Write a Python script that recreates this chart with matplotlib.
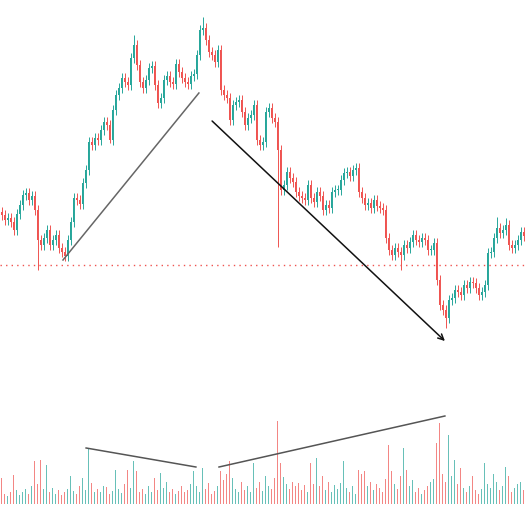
import matplotlib
matplotlib.use("Agg")
import matplotlib.pyplot as plt
import numpy as np

# Close prices (one candle per step)
close = [
    105.0, 104.5, 104.7, 104.3, 103.5, 105.1, 106.0, 107.0, 107.2, 106.5,
    106.9, 105.5, 102.5, 102.0, 102.7, 103.5, 102.0, 102.5, 103.0, 101.7,
    101.3, 100.9, 102.5, 104.3, 106.7, 106.5, 106.1, 108.2, 109.5, 112.3,
    112.0, 112.7, 112.5, 113.5, 114.3, 114.0, 112.5, 115.5, 117.0, 117.7,
    118.7, 118.3, 118.0, 120.7, 122.0, 120.0, 118.3, 117.7, 118.5, 119.7,
    119.9, 118.0, 116.2, 116.7, 118.5, 118.9, 118.3, 118.1, 120.1, 119.3,
    118.7, 118.3, 118.1, 118.9, 119.1, 121.0, 123.5, 123.7, 122.5, 121.3,
    121.0, 120.3, 121.5, 117.5, 117.0, 116.7, 114.5, 116.0, 116.3, 116.5,
    115.3, 114.0, 114.7, 115.0, 116.0, 112.5, 112.0, 112.3, 115.3, 115.7,
    114.7, 114.3, 111.5, 107.5, 108.0, 109.3, 108.7, 108.3, 107.3, 106.9,
    106.7, 106.5, 108.0, 106.7, 106.3, 107.3, 106.9, 105.5, 106.0, 105.7,
    107.3, 107.5, 107.5, 108.5, 109.2, 109.3, 108.9, 109.5, 109.7, 107.3,
    106.7, 106.0, 106.2, 105.7, 106.5, 105.9, 105.7, 105.5, 102.7, 101.5,
    101.0, 101.7, 101.3, 101.0, 102.0, 101.7, 102.3, 103.0, 102.5, 102.3,
    102.7, 102.5, 101.5, 101.5, 102.2, 98.5, 96.0, 95.5, 94.7, 96.5,
    96.7, 97.5, 97.3, 97.0, 98.0, 97.7, 98.3, 98.2, 97.7, 97.0,
    97.3, 98.0, 101.2, 101.3, 102.7, 103.7, 103.2, 103.5, 104.0, 102.0,
    101.7, 102.0, 102.5, 103.3, 102.9,
]

# Volume per candle
volume = [
    26, 10, 8, 12, 29, 14, 9, 12, 15, 10, 18, 43, 20, 44, 15, 39, 12, 16, 10, 14,
    9, 12, 15, 28, 13, 10, 18, 26, 14, 56, 21, 12, 15, 12, 18, 17, 10, 13, 34, 15,
    11, 20, 34, 16, 43, 33, 12, 15, 10, 18, 12, 26, 14, 31, 16, 22, 12, 15, 10, 13,
    18, 12, 14, 20, 33, 18, 12, 36, 15, 21, 10, 13, 18, 33, 24, 30, 43, 26, 15, 12,
    22, 14, 18, 12, 41, 16, 22, 13, 28, 18, 15, 26, 83, 41, 27, 20, 15, 22, 18, 21,
    14, 19, 12, 41, 20, 46, 18, 28, 14, 22, 12, 19, 15, 21, 43, 16, 12, 18, 10, 34,
    30, 33, 18, 22, 14, 20, 16, 12, 25, 59, 33, 20, 15, 28, 56, 34, 18, 24, 12, 16,
    10, 14, 18, 22, 25, 61, 81, 30, 22, 69, 28, 44, 20, 36, 16, 12, 18, 28, 14, 10,
    15, 41, 20, 16, 30, 22, 14, 18, 37, 28, 12, 16, 20, 22, 14,
]

# Notable wick extremes: candle index -> price
spike_highs = {44: 123.0, 67: 124.8, 72: 122.0, 165: 104.8, 168: 104.7}
spike_lows = {12: 99.5, 92: 101.8, 133: 99.5, 148: 93.7, 36: 112.2}
wick_len = 0.5

support_level = 100.0
trend_up = ([20.5, 65.8], [100.5, 117.2])
trend_down = ([70.2, 147.8], [114.4, 92.4])
vol_line1 = ([28.2, 64.8], [56, 37])
vol_line2 = ([72.5, 147.8], [37, 88])

UP = "#26a69a"
DOWN = "#ef5350"

n = len(close)
x = np.arange(n)
c = np.array(close)
o = np.concatenate([[c[0] + 0.3], c[:-1]])
hi = np.maximum(o, c) + wick_len
lo = np.minimum(o, c) - wick_len
for k, v in spike_highs.items():
    hi[k] = v
for k, v in spike_lows.items():
    lo[k] = v
up = c >= o
cols = np.where(up, UP, DOWN)

fig = plt.figure(figsize=(5.25, 5.13), dpi=100)
ax = fig.add_axes([0, 0, 1, 1])
ax.set_xlim(-0.5, n - 0.5)
ax.set_ylim(75.2, 126.5)
ax.axis("off")

axv = fig.add_axes([0, 0, 1, 1], sharex=ax)
axv.set_ylim(-9, 504)
axv.axis("off")
axv.patch.set_alpha(0)

# volume
vx = np.arange(len(volume))
vcols = [cols[i] if i < n else UP for i in vx]
axv.bar(vx, volume, width=0.55, color=vcols, alpha=0.7, linewidth=0)
axv.plot(*vol_line1, color="#555555", lw=1.1)
axv.plot(*vol_line2, color="#555555", lw=1.1)

# candles
ax.vlines(x, lo, hi, colors=cols, lw=0.7)
body = np.maximum(np.abs(c - o), 0.08)
ax.bar(x, body, bottom=np.minimum(o, c), width=0.6, color=cols, linewidth=0)

ax.axhline(support_level, color=DOWN, lw=1, ls=(0, (1, 3)))
ax.plot(*trend_up, color="#666666", lw=1.1)
ax.annotate("", xy=(trend_down[0][1], trend_down[1][1]),
            xytext=(trend_down[0][0], trend_down[1][0]),
            arrowprops=dict(arrowstyle="->", color="#111111", lw=1.1,
                            shrinkA=0, shrinkB=0, mutation_scale=10))

fig.savefig("out.png", dpi=100, facecolor="white")
